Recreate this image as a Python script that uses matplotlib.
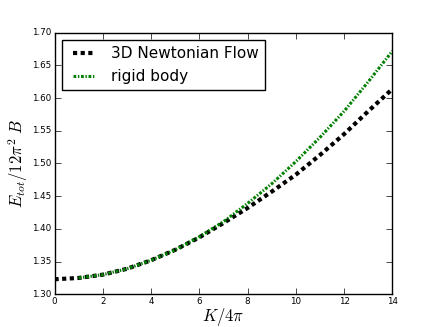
import matplotlib
matplotlib.use('Agg')
import matplotlib.pyplot as plt

# data
k_flow = [0, 1, 2, 3, 4, 5, 6, 7, 8, 9, 10, 11, 12, 13, 14]
e_flow = [1.323, 1.325, 1.330, 1.339, 1.352, 1.368, 1.387, 1.409,
          1.432, 1.457, 1.483, 1.513, 1.545, 1.580, 1.614]

k_rigid = [1, 2, 3, 4, 5, 6, 7, 8, 9, 10, 11, 12, 13, 14]
e_rigid = [1.325, 1.330, 1.339, 1.352, 1.368, 1.388, 1.411, 1.439,
           1.469, 1.503, 1.540, 1.580, 1.625, 1.672]

xticks = [0, 2, 4, 6, 8, 10, 12, 14]
yticks = [1.30, 1.35, 1.40, 1.45, 1.50, 1.55, 1.60, 1.65, 1.70]

plt.style.use('classic')
plt.rcParams['lines.scale_dashes'] = False
plt.rcParams['mathtext.fontset'] = 'cm'

fig = plt.figure(figsize=(4.36, 3.27), dpi=100)
fig.patch.set_facecolor('white')
ax = fig.add_subplot(111)

ax.plot(k_flow, e_flow, color='black', lw=3.0,
        linestyle=(0, (3.0, 2.5)), label='3D Newtonian Flow')
ax.plot(k_rigid, e_rigid, color='green', lw=2.2,
        linestyle=(0, (2.0, 1.2, 1.0, 1.2)), label='rigid body')

ax.set_xlim(0, 14)
ax.set_ylim(1.30, 1.70)
ax.set_xticks(xticks)
ax.set_yticks(yticks)
ax.set_yticklabels(['%.2f' % v for v in yticks])
ax.tick_params(labelsize=6.3, pad=2)

ax.set_xlabel(r'$K/4\pi$', fontsize=12, labelpad=0)
ax.set_ylabel(r'$E_{tot}/12\pi^2\ B$', fontsize=12, labelpad=2)

ax.legend(loc='upper left', fontsize=11, handlelength=2)

fig.savefig('out.png', dpi=100, facecolor='white')
